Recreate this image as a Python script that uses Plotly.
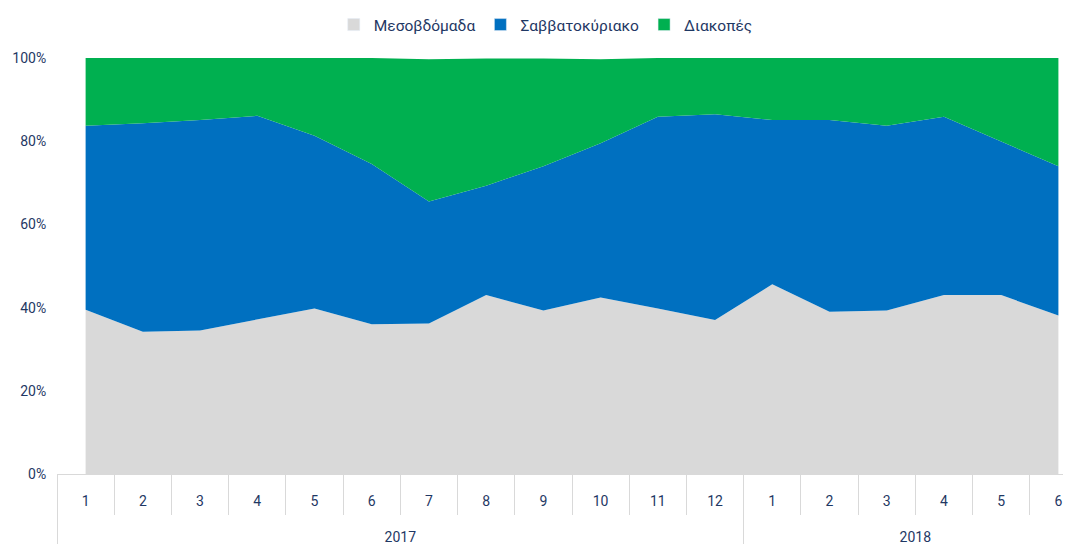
import plotly.graph_objects as go

years = ["2017"] * 12 + ["2018"] * 6
months = [str(m) for m in range(1, 13)] + [str(m) for m in range(1, 7)]

series_names = ["Μεσοβδόμαδα", "Σαββατοκύριακο", "Διακοπές"]
weekday = [39.5, 34.2, 34.5, 37.2, 39.8, 36.0, 36.2, 43.0, 39.3, 42.4, 39.8, 37.0,
           45.6, 39.0, 39.3, 43.0, 43.0, 38.1]
weekend = [44.2, 50.1, 50.6, 48.9, 41.5, 38.5, 29.3, 26.3, 34.7, 37.1, 46.1, 49.5,
           39.5, 46.1, 44.4, 42.9, 36.9, 35.9]
holidays = [16.3, 15.7, 14.9, 13.9, 18.7, 25.5, 34.2, 30.6, 25.9, 20.2, 14.1, 13.5,
            14.9, 14.9, 16.3, 14.1, 20.1, 26.0]
colors = ["#D9D9D9", "#0070C0", "#00B050"]

y_ticks = [0, 20, 40, 60, 80, 100]
y_ticktext = [f"{v}%" for v in y_ticks]

FONT = "Roboto, Noto Sans, sans-serif"
TXT = "#1F3864"
GRID = "#D9D9D9"

n = len(months)
pos = list(range(n))
month_bounds = [p - 0.5 for p in pos]
# year groups: centre and boundaries derived from the category list
year_names = []
for y in years:
    if y not in year_names:
        year_names.append(y)
year_centers, year_bounds = [], []
for y in year_names:
    idx = [i for i, v in enumerate(years) if v == y]
    year_centers.append((idx[0] + idx[-1]) / 2)
    year_bounds.append(idx[0] - 0.5)
year_bounds.append(n - 0.5)
XRANGE = [-0.5, 17.22]

x = [years, months]
fig = go.Figure()
for name, vals, col in zip(series_names, [weekday, weekend, holidays], colors):
    fig.add_trace(go.Scatter(
        x=x, y=vals, name=name, mode="lines", stackgroup="one",
        line=dict(width=0, color=col), fillcolor=col, showlegend=False,
        hoverinfo="x+y+name",
    ))
# legend proxies (square markers like the reference)
for name, col in zip(series_names, colors):
    fig.add_trace(go.Bar(x=x, y=[None] * n, name=name,
                         marker=dict(color=col), showlegend=True))
# empty carriers so the label axes (months / years) get drawn
for ax in ["x2", "x3"]:
    fig.add_trace(go.Scatter(x=pos, y=[None] * n, xaxis=ax, yaxis="y",
                             mode="lines", showlegend=False, hoverinfo="skip"))

fig.update_layout(
    width=1063, height=536,
    margin=dict(l=49, r=0, t=50, b=70, autoexpand=False),
    paper_bgcolor="white", plot_bgcolor="white",
    font=dict(family=FONT, size=14, color=TXT),
    showlegend=True,
    legend=dict(orientation="h", x=0.482, xanchor="center", y=1.0, yanchor="top",
                yref="container", font=dict(size=15.5, color=TXT),
                itemwidth=30, traceorder="normal", tracegroupgap=0),
    barmode="overlay",
    xaxis=dict(
        type="multicategory", range=XRANGE,
        showline=True, linecolor=GRID, linewidth=1,
        showticklabels=False, ticks="", showdividers=False, showgrid=False,
    ),
    # month labels + month separators
    xaxis2=dict(
        overlaying="x", anchor="y", side="bottom", range=XRANGE, type="linear",
        tickmode="array", tickvals=pos, ticktext=months, ticks="",
        ticklabelstandoff=17, showgrid=False, zeroline=False, showline=False,
        tickfont=dict(size=14, color=TXT),
        minor=dict(tickmode="array", tickvals=month_bounds, ticks="outside",
                   ticklen=40, tickcolor=GRID, showgrid=False),
    ),
    # year labels + year dividers
    xaxis3=dict(
        overlaying="x", anchor="y", side="bottom", range=XRANGE, type="linear",
        tickmode="array", tickvals=year_centers, ticktext=year_names, ticks="",
        ticklabelstandoff=53, showgrid=False, zeroline=False, showline=False,
        tickfont=dict(size=14, color=TXT),
        minor=dict(tickmode="array", tickvals=year_bounds, ticks="outside",
                   ticklen=80, tickcolor=GRID, showgrid=False),
    ),
)
fig.update_yaxes(
    range=[0, 100], tickvals=y_ticks, ticktext=y_ticktext,
    showgrid=False, zeroline=False, showline=False,
    ticks="outside", ticklen=7, tickcolor="rgba(0,0,0,0)",
    tickfont=dict(size=14, color=TXT),
)

fig.write_html("out.html")
